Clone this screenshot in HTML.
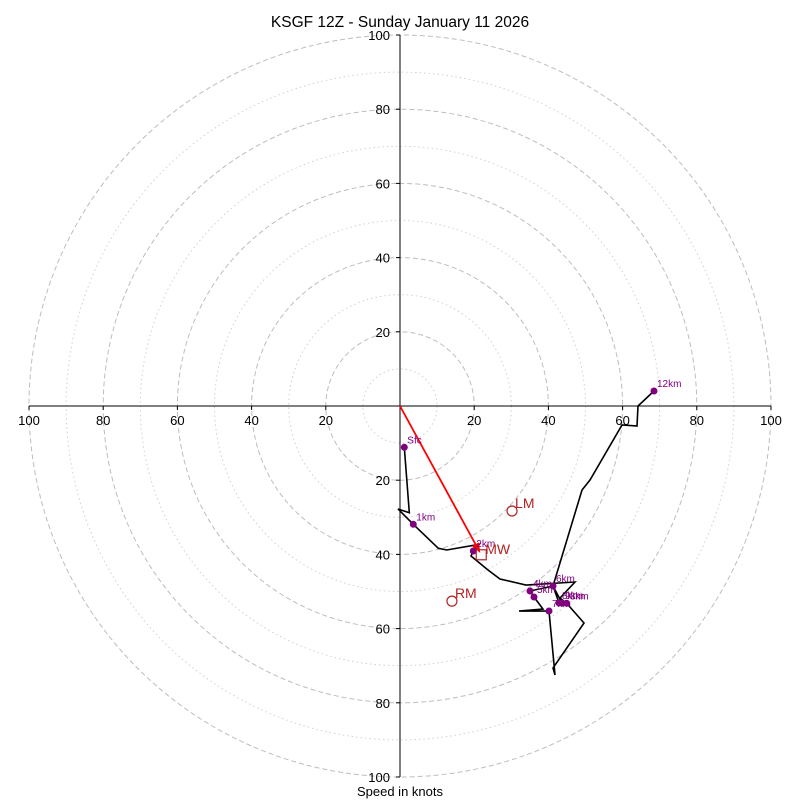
<!DOCTYPE html>
<html><head><meta charset="utf-8"><style>
html,body{margin:0;padding:0;background:#fff;}
svg{display:block;font-family:"Liberation Sans","DejaVu Sans",sans-serif;}
</style></head><body>
<svg id="chart" width="800" height="800" viewBox="0 0 800 800">
<text x="400" y="27" text-anchor="middle" font-size="15.5">KSGF 12Z - Sunday January 11 2026</text>
<text x="400" y="796" text-anchor="middle" font-size="13">Speed in knots</text>
<g id="rings"></g><g id="axes"></g><g id="trace"></g><g id="marks"></g>
</svg>
<script>
const heightLabels = ["Sfc","1km","2km","3km","4km","5km","6km","7km","8km","9km","12km"];
const markerU = [1.16,3.58,19.76,44.93,35.04,36.12,41.24,40.16,42.86,43.67,68.46];
const markerV = [-11.13,-31.89,-39.08,-53.18,-49.87,-51.48,-48.52,-55.26,-53.10,-53.10,4.04];
const traceU = [1.16,2.51,-0.54,3.58,10.32,12.59,21.37,19.76,19.14,23.72,26.95,33.96,47.17,43.13,44.93,49.60,41.24,41.78,40.16,32.08,38.54,36.12,35.04,41.24,42.86,43.67,41.24,49.06,51.21,59.84,63.88,64.15,68.46];
const traceV = [-11.13,-28.76,-27.76,-31.89,-38.36,-38.81,-37.28,-39.08,-40.43,-44.20,-46.63,-48.25,-47.44,-51.75,-53.18,-58.49,-70.62,-72.51,-55.26,-55.26,-54.72,-51.48,-49.87,-48.52,-53.10,-53.10,-48.52,-22.64,-19.95,-5.12,-5.39,0,4.04];
const motionNames = ["LM","RM"];
const motionU = [30.2,14.0];
const motionV = [-28.3,-52.6];
const meanWindU = [21.9];
const meanWindV = [-40.1];
const ringValues = [10,20,30,40,50,60,70,80,90,100];
const tickValues = [20,40,60,80,100];

const CX=400, CY=406, S=3.71;
const sx = u => CX + u*S;
const sy = v => CY - v*S;
const NS="http://www.w3.org/2000/svg";
function mk(tag, attrs, parent){const e=document.createElementNS(NS,tag);for(const k in attrs)e.setAttribute(k,attrs[k]);parent.appendChild(e);return e;}
const rings=document.getElementById('rings'), axes=document.getElementById('axes'), trace=document.getElementById('trace'), marks=document.getElementById('marks');

ringValues.forEach(r=>{
  const major = r%20===0;
  const c=mk('circle',{cx:CX,cy:CY,r:r*S,fill:'none',stroke:major?'#bdbdbd':'#d0d0d0','stroke-width':1,'stroke-dasharray':major?'5,3':'1.5,3'},rings);
  
  
});
let l=mk('line',{x1:sx(-100),y1:CY,x2:sx(100),y2:CY,stroke:'#000','stroke-width':1},axes);
 
l=mk('line',{x1:CX,y1:sy(100),x2:CX,y2:sy(-100),stroke:'#000','stroke-width':1},axes);
 
tickValues.forEach(t=>{
  [t,-t].forEach(v=>{
    mk('line',{x1:sx(v),y1:CY,x2:sx(v),y2:CY+4,stroke:'#000'},axes);
    let tx=mk('text',{x:sx(v),y:CY+19,'text-anchor':'middle','font-size':13},axes);
    tx.textContent=t;
    
    
    mk('line',{x1:CX-4,y1:sy(v),x2:CX,y2:sy(v),stroke:'#000'},axes);
    let ty=mk('text',{x:CX-10,y:sy(v)+5,'text-anchor':'end','font-size':13},axes);
    ty.textContent=t;
    
    
  });
});
let pts=traceU.map((u,i)=>sx(u)+','+sy(traceV[i])).join(' ');
let pl=mk('polyline',{points:pts,fill:'none',stroke:'#000','stroke-width':1.6,'stroke-linejoin':'miter'},trace);



// mean wind arrow (ends just short of MW marker)
const mx=sx(meanWindU[0]), my=sy(meanWindV[0]);
const dx=mx-CX, dy=my-CY, len=Math.hypot(dx,dy), ux=dx/len, uy=dy/len;
const ex=CX+ux*(len-2), ey=CY+uy*(len-2);
let ar=mk('line',{x1:CX,y1:CY,x2:ex-ux*6,y2:ey-uy*6,stroke:'#ff0000','stroke-width':1.8},marks);


const bx=ex-ux*10, by=ey-uy*10, px=-uy, py=ux;
const head=mk('polygon',{points:`${ex},${ey} ${bx+px*4},${by+py*4} ${bx-px*4},${by-py*4}`,fill:'#ff0000'},marks);



markerU.forEach((u,i)=>{
  const c=mk('circle',{cx:sx(u),cy:sy(markerV[i]),r:3.5,fill:'#800080'},marks);
  
  
  const t=mk('text',{x:sx(u)+3,y:sy(markerV[i])-4,'font-size':10,fill:'#800080'},marks);
  t.textContent=heightLabels[i];
  
  
});
motionNames.forEach((n,i)=>{
  const x=sx(motionU[i]), y=sy(motionV[i]);
  const c=mk('circle',{cx:x,cy:y,r:5,fill:'none',stroke:'#b22222','stroke-width':1.2},marks);
  
  
  const t=mk('text',{x:x+3,y:y-3,'font-size':14,fill:'#b22222'},marks);
  t.textContent=n;
  
  
});
const r=mk('rect',{x:mx-5,y:my-5,width:10,height:10,fill:'none',stroke:'#b22222','stroke-width':1.2},marks);


const mt=mk('text',{x:mx+4,y:my-1,'font-size':14,fill:'#b22222'},marks);
mt.textContent='MW';


</script>
</body></html>
